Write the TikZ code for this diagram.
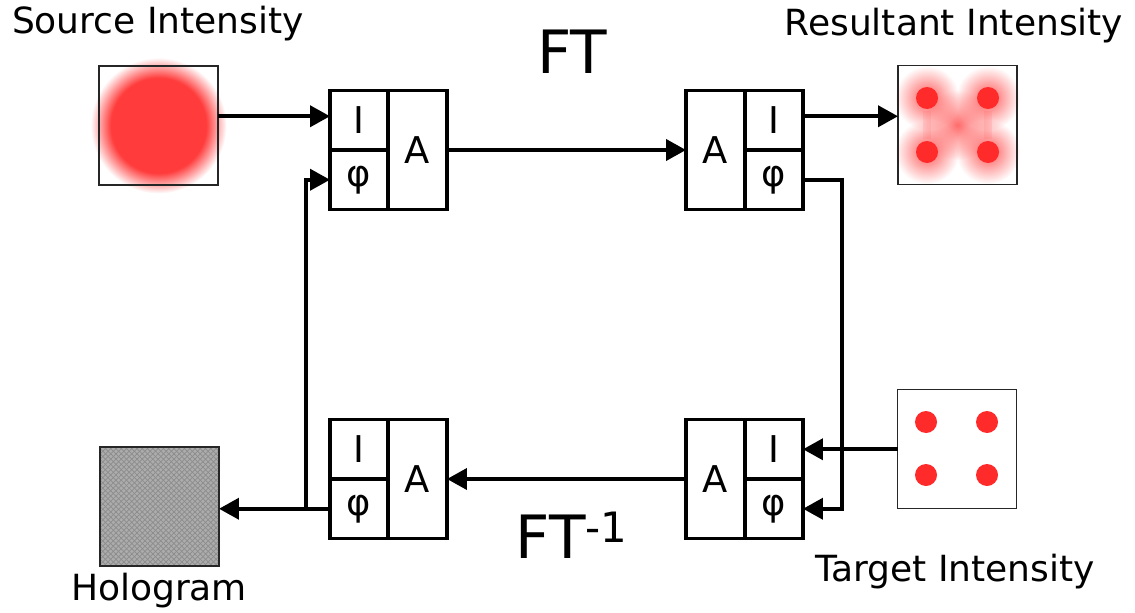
\documentclass[tikz,border=0pt]{standalone}
\usepackage{fontspec}
\setmainfont{DejaVu Sans}
\usetikzlibrary{positioning,calc,arrows.meta,backgrounds,patterns,fadings}
\definecolor{HInk}{HTML}{000000}
\definecolor{HRed}{HTML}{FF3B3B}
\definecolor{HDot}{HTML}{FF2A2A}
\definecolor{HGray}{HTML}{ACACAC}
\definecolor{HGrayDark}{HTML}{8C8C8C}
\pgfdeclareradialshading{srcblob}{\pgfpoint{0bp}{0bp}}{color(0bp)=(HRed); color(17.5bp)=(HRed); color(25bp)=(white); color(50bp)=(white)}
\tikzfading[name=fuzz, inner color=transparent!0, outer color=transparent!100]

\begin{document}
\begin{tikzpicture}[x=0.02cm, y=-0.02cm,
  every node/.style={text=HInk},
  lbl/.style={font=\fontsize{20.5}{24}\selectfont, anchor=base},
  big/.style={font=\fontsize{34}{40}\selectfont, anchor=base},
  cell/.style={draw, line width=1.8pt, outer sep=0pt, inner sep=0pt,
               minimum width=1.16cm, minimum height=1.19cm, font=\fontsize{21}{25}\selectfont},
  acell/.style={cell, minimum width=1.18cm, minimum height=2.38cm},
  img/.style={draw=black!85, line width=1.1pt, minimum size=2.38cm, inner sep=0pt, outer sep=0pt},
  arrow/.style={-{Triangle[length=0.4cm,width=0.42cm]}, line width=2.2pt},
]
\useasboundingbox (0,0) rectangle (1135,612);
% intensity pictures
\node[img] (src)  at (158.5,125.5) {};
\node[img] (res)  at (957.5,125) {};
\node[img] (tgt)  at (957,449) {};
\node[img] (holo) at (159.5,506.5) {};
% amplitude / phase blocks
\node[acell] (tlA) at (417.5,150) {A};
\node[cell, anchor=north east] (tlI) at (tlA.north west) {I};
\node[cell, anchor=south east] (tlP) at (tlA.south west) {φ};
\node[acell] (trA) at (715.5,150) {A};
\node[cell, anchor=north west] (trI) at (trA.north east) {I};
\node[cell, anchor=south west] (trP) at (trA.south east) {φ};
\node[acell] (blA) at (417.5,479) {A};
\node[cell, anchor=north east] (blI) at (blA.north west) {I};
\node[cell, anchor=south east] (blP) at (blA.south west) {φ};
\node[acell] (brA) at (715.5,479) {A};
\node[cell, anchor=north west] (brI) at (brA.north east) {I};
\node[cell, anchor=south west] (brP) at (brA.south east) {φ};
% labels
\node[lbl] (srcT)  at (158,33)  {Source Intensity};
\node[lbl] (resT)  at (954,35)  {Resultant Intensity};
\node[lbl] (tgtT)  at (955,581) {Target Intensity};
\node[lbl] (holoT) at (159,600) {Hologram};
\node[big] (ft)    at (572,73)  {FT};
\node[big] (ift)   at (572,558) {FT\textsuperscript{-1}};
% picture contents
\begin{scope}[on background layer]
  \shade[shading=srcblob] (src.center) circle[radius=1.36cm];
  \fill[HRed!75, path fading=fuzz] (res.center) circle[radius=0.7cm];
  \foreach \dx/\dy in {-30.5/-27, 30.5/-27, -30.5/27, 30.5/27}
    \fill[HRed!85, path fading=fuzz] ($(res.center)+(\dx,\dy)$) circle[radius=0.64cm];
  \foreach \dx in {-30.5, 30.5}
    \fill[HRed, opacity=0.1] ($(res.center)+(\dx-4,-14)$) rectangle ($(res.center)+(\dx+4,14)$);
  \fill[HGray] (holo.south west) rectangle (holo.north east);
  \fill[pattern=north east lines, pattern color=HGrayDark] (holo.south west) rectangle (holo.north east);
  \fill[pattern=north west lines, pattern color=HGrayDark] (holo.south west) rectangle (holo.north east);
\end{scope}
\foreach \dx/\dy in {-30.5/-27, 30.5/-27, -30.5/27, 30.5/27}
  \fill[HDot] ($(res.center)+(\dx,\dy)$) circle[radius=0.22cm];
\foreach \dx/\dy in {-31/-27, 30/-27, -31/26, 30/26}
  \fill[HDot] ($(tgt.center)+(\dx,\dy)$) circle[radius=0.22cm];
% connectors
\draw[arrow] (src.east |- tlI.west) ++(0,-4) -- ($(tlI.west)+(0,-4)$);
\draw[arrow] (tlA) -- (trA);
\draw[arrow] ($(trI.east)+(0,-4)$) -- (res.west |- {$(trI.east)+(0,-4)$});
\draw[arrow] (trP.east) -- ++(39,0) |- (brP.east);
\draw[arrow] (tgt.west |- brI) -- (brI.east);
\draw[arrow] (brA) -- (blA);
\draw[arrow] (blP.west) -- (holo.east |- blP.west);
\draw[arrow] (blP.west) -- ++(-24,0) |- (tlP.west);
\end{tikzpicture}
\end{document}
